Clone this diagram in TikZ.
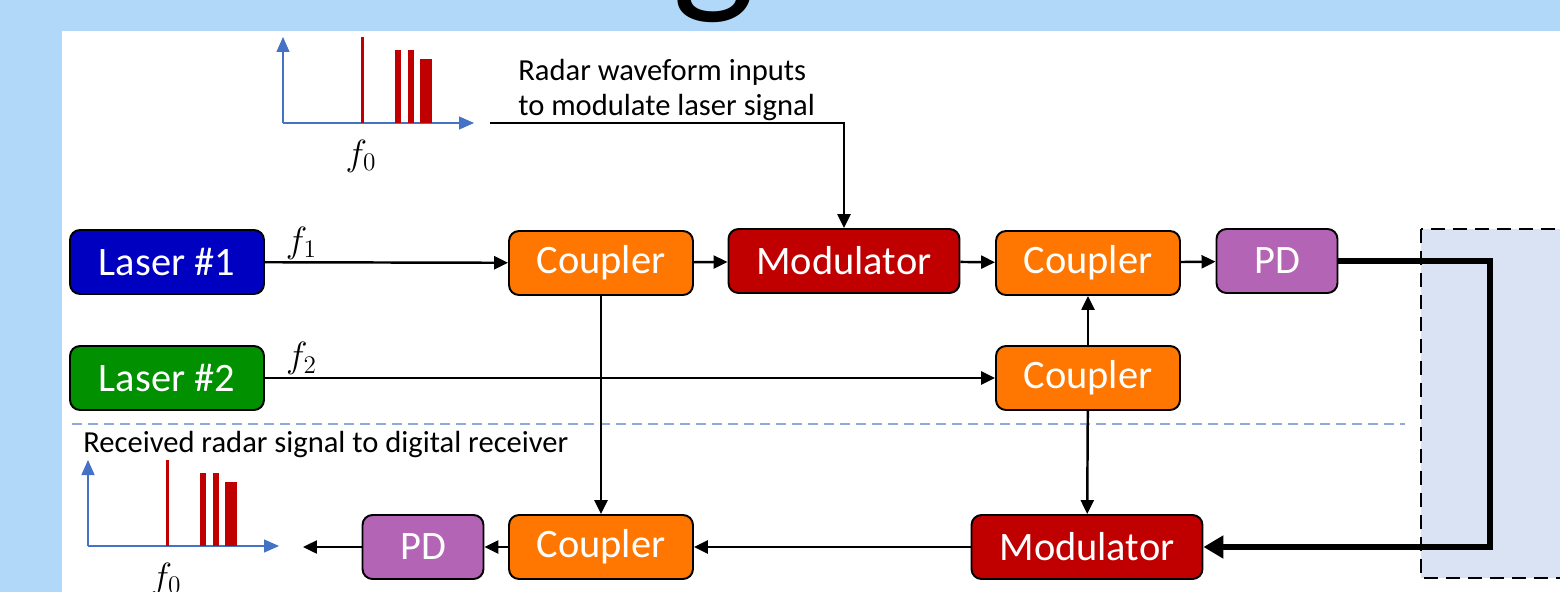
\documentclass[tikz,border=0pt]{standalone}
\usepackage{fontspec}
\setmainfont{Carlito}
\usepackage{tikz}
\usetikzlibrary{arrows.meta, positioning}
\definecolor{Slide_Blue}{HTML}{B1D8F9}
\definecolor{Laser_Blue}{HTML}{0000C0}
\definecolor{Laser_Green}{HTML}{009000}
\definecolor{Coupler_Orange}{HTML}{FF7600}
\definecolor{Mod_Red}{HTML}{C00000}
\definecolor{PD_Purple}{HTML}{B464B4}
\definecolor{Axis_Blue}{HTML}{4472C4}
\definecolor{Split_Blue}{HTML}{8FAADC}
\definecolor{Box_Fill}{HTML}{DAE3F3}

\begin{document}
\begin{tikzpicture}[x=0.02cm, y=-0.02cm, >={Triangle[length=0.28cm,width=0.26cm]},
    block/.style={draw=black, line width=1.1pt, rounded corners=0.2cm, text=white,
        minimum height=1.28cm, inner sep=0pt, font=\fontsize{23}{27}\selectfont},
    laser/.style={block, minimum width=3.88cm},
    coupler/.style={block, fill=Coupler_Orange, minimum width=3.68cm},
    modulator/.style={block, fill=Mod_Red, minimum width=4.62cm},
    detector/.style={block, fill=PD_Purple, minimum width=2.42cm},
    sig/.style={->, line width=1.4pt},
    note/.style={inner sep=0pt, font=\fontsize{17.4}{19.5}\selectfont},
    freq/.style={inner sep=1pt, font=\fontsize{21}{24}\selectfont}]
    \useasboundingbox (0,0) rectangle (1560,592);

    % Slide background and title remnant
    \fill[Slide_Blue] (0,0) rectangle (1560,592);
    \node[anchor=base, inner sep=0pt, font=\fontsize{100}{100}\selectfont] (titleg) at (714,-8) {g};
    \fill[white] (62,31) rectangle (1560,592);

    % Antenna side (dashed region)
    \draw[fill=Box_Fill, line width=1.3pt, dash pattern=on 0.28cm off 0.16cm] (1421,229) rectangle (1590,578);

    % Transmit / receive split
    \draw[Split_Blue, line width=0.7pt, dash pattern=on 0.2cm off 0.12cm] (72,424) -- (1405,424);

    % Spectra
    \foreach \ox/\oy in {283/123, 88/546} {
        \draw[Axis_Blue, line width=0.7pt, -{Triangle[length=0.3cm,width=0.26cm]}] (\ox,\oy) -- ++(0,-86);
        \draw[Axis_Blue, line width=0.7pt, -{Triangle[length=0.3cm,width=0.26cm]}] (\ox,\oy) -- ++(191,0);
        \fill[Mod_Red] (\ox+78,\oy) rectangle ++(3,-86);
        \fill[Mod_Red] (\ox+112,\oy) rectangle ++(6,-73);
        \fill[Mod_Red] (\ox+125,\oy) rectangle ++(6,-73);
        \fill[Mod_Red] (\ox+137,\oy) rectangle ++(12,-64);
        \node[freq] at (\ox+78,\oy+33) {$f_0$};
    }

    % Blocks
    \node[laser, fill=Laser_Blue] (laser1) at (167,262) {Laser \#1};
    \node[laser, fill=Laser_Green] (laser2) at (167,378) {Laser \#2};
    \node[coupler] (cpl1) at (601,263) {Coupler};
    \node[modulator] (mod1) at (844,261) {Modulator};
    \node[coupler] (cpl2) at (1088,263) {Coupler};
    \node[detector] (pd1) at (1277,261) {PD};
    \node[coupler] (cpl3) at (1088,378) {Coupler};
    \node[modulator] (mod2) at (1087,547) {Modulator};
    \node[coupler] (cpl4) at (601,547) {Coupler};
    \node[detector] (pd2) at (423,547) {PD};

    % Notes
    \node[note, anchor=west, align=left] (radtxt) at (518,90) {Radar waveform inputs\\to modulate laser signal};
    \node[note, anchor=west] (rxtxt) at (83,445) {Received radar signal to digital receiver};

    \coordinate (radin) at (490,123);
    \coordinate (turn) at (1490,261);
    \coordinate (rxout) at (303,547);

    % Transmit path
    \draw[sig] (laser1) -- node[freq, pos=0.15, above] {$f_1$} (cpl1);
    \draw[sig] (laser2) -- node[freq, pos=0.05, above] {$f_2$} (cpl3);
    \draw[sig] (radin) -| (mod1.north);
    \draw[sig] (cpl1) -- (mod1);
    \draw[sig] (mod1) -- (cpl2);
    \draw[sig] (cpl2) -- (pd1);
    \draw[sig] (cpl3) -- (cpl2);
    \draw[line width=3.4pt, -{Triangle[length=0.4cm,width=0.44cm]}] (pd1.east) -- (turn) |- (mod2.east);

    % Receive path
    \draw[sig] (cpl3) -- (mod2);
    \draw[sig] (cpl1) -- (cpl4);
    \draw[sig] (mod2) -- (cpl4);
    \draw[sig] (cpl4) -- (pd2);
    \draw[sig] (pd2) -- (rxout);
\end{tikzpicture}
\end{document}
